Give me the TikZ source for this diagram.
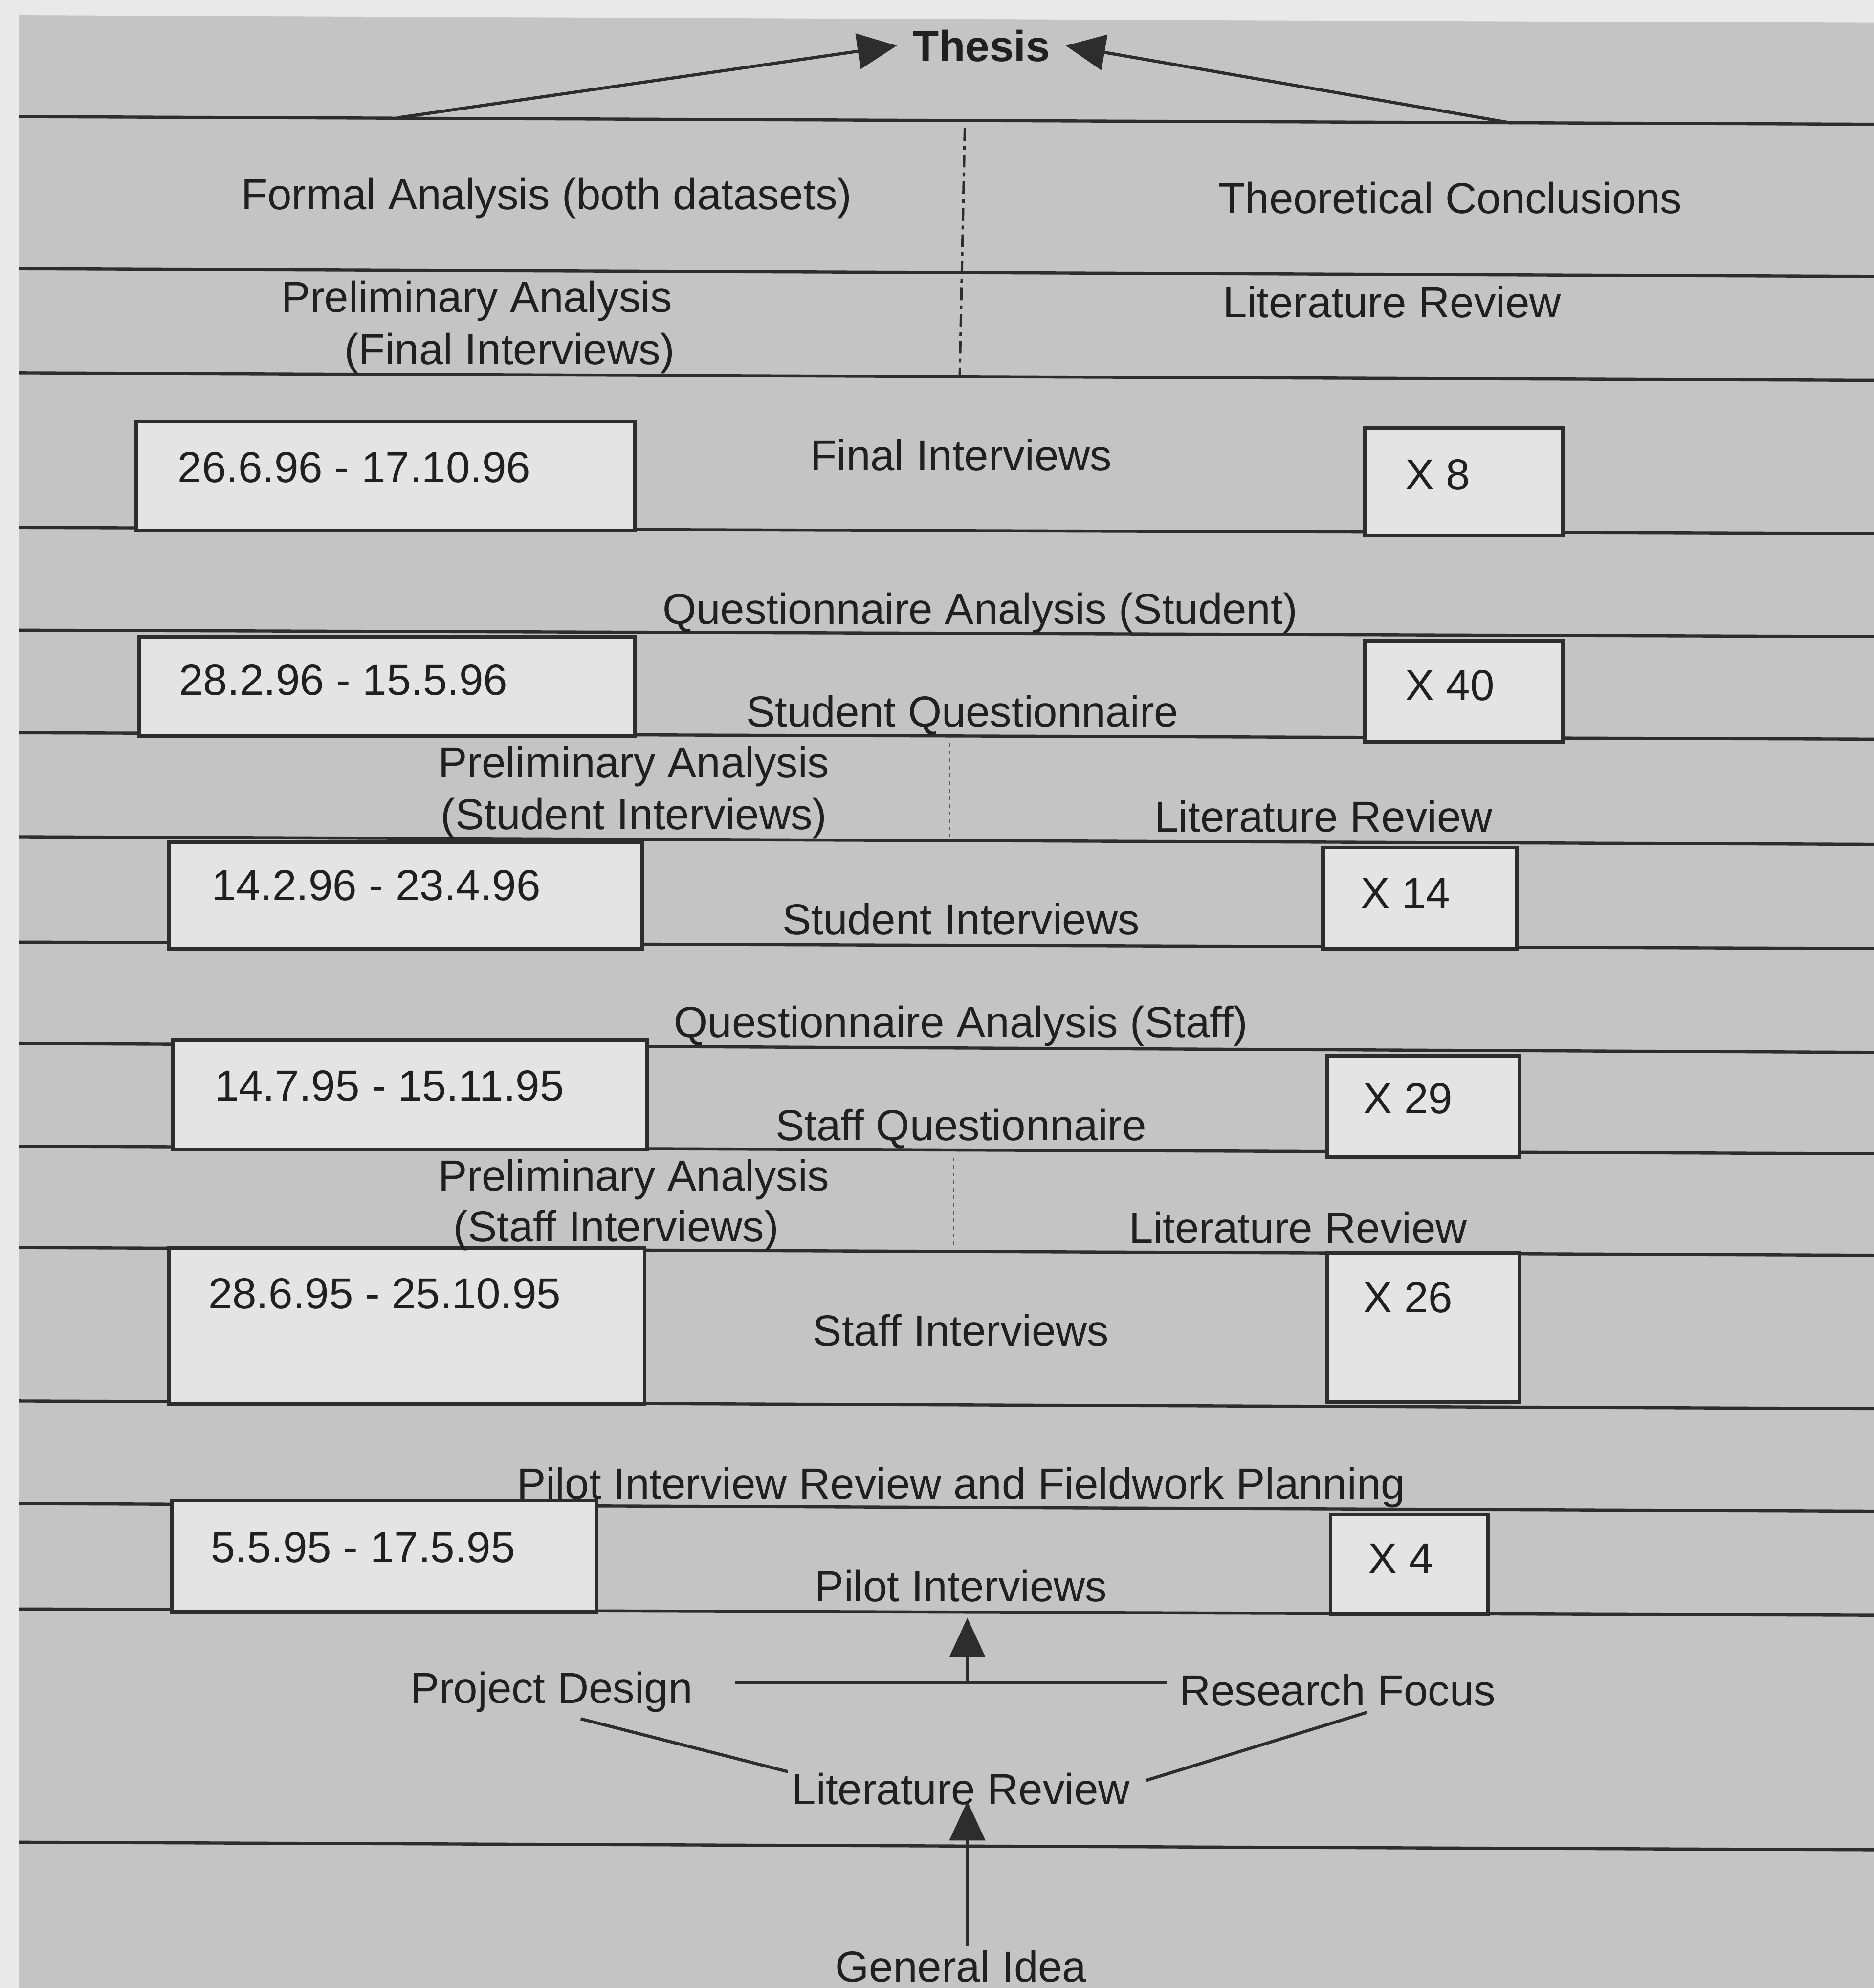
\documentclass[tikz,border=0pt]{standalone}
\usepackage{fontspec}
\setmainfont{Liberation Sans}
\usetikzlibrary{arrows.meta}
\definecolor{bg}{RGB}{196,196,196}
\definecolor{paper}{RGB}{233,233,233}
\definecolor{boxfill}{RGB}{228,228,228}
\definecolor{ink}{RGB}{32,32,32}
\definecolor{rule}{RGB}{45,45,45}
\begin{document}
\begin{tikzpicture}[x=0.02cm,y=-0.02cm,
  lbl/.style={font=\fontsize{19.5pt}{23pt}\selectfont, text=ink, inner sep=0pt, text height=14pt, text depth=0pt},
  dlbl/.style={lbl, anchor=west},
  dbox/.style={draw=rule, fill=boxfill, line width=1.7pt, anchor=north west, inner sep=0pt},
  hline/.style={draw=rule, line width=1.4pt},
  conn/.style={draw=rule, line width=1.4pt},
  arr/.style={conn, -{Triangle[length=0.62cm,width=0.56cm]}},
  dashdotline/.style={draw=rule, line width=1.1pt, dash pattern=on 0.2cm off 0.08cm on 0.06cm off 0.08cm},
  dotline/.style={draw=rule!80, line width=0.6pt, dash pattern=on 0.06cm off 0.06cm}
]
\useasboundingbox (0,0) rectangle (1478,1568);
\clip (0,0) rectangle (1478,1568);
\fill[paper] (0,0) rectangle (1478,1568);
\fill[bg] (15,12) -- (1478,18) -- (1478,1568) -- (15,1568) -- cycle;

% horizontal rules
\foreach \a/\b in {92/98, 212/218, 294/300, 416/421, 497/502, 578/583, 660/666, 743/748,
                   823/830, 904/910, 984/990, 1105/1111, 1186/1192, 1269/1274, 1453/1459}
  \draw[hline] (15,\a) -- (1478,\b);

% vertical separators
\draw[dashdotline] (761,101) -- (757,297);
\draw[dotline] (749,586) -- (749,660);
\draw[dotline] (752,913) -- (752,985);

% boxes
\node[dbox, minimum width=393*0.02cm, minimum height=86*0.02cm] (d1) at (106,331) {};
\node[dbox, minimum width=156*0.02cm, minimum height=85*0.02cm] (n1) at (1075,336) {};
\node[dbox, minimum width=391*0.02cm, minimum height=78*0.02cm] (d2) at (108,501) {};
\node[dbox, minimum width=156*0.02cm, minimum height=80*0.02cm] (n2) at (1075,504) {};
\node[dbox, minimum width=373*0.02cm, minimum height=84*0.02cm] (d3) at (132,663) {};
\node[dbox, minimum width=153*0.02cm, minimum height=80*0.02cm] (n3) at (1042,667) {};
\node[dbox, minimum width=374*0.02cm, minimum height=86*0.02cm] (d4) at (135,819) {};
\node[dbox, minimum width=152*0.02cm, minimum height=80*0.02cm] (n4) at (1045,831) {};
\node[dbox, minimum width=375*0.02cm, minimum height=123*0.02cm] (d5) at (132,983) {};
\node[dbox, minimum width=152*0.02cm, minimum height=117*0.02cm] (n5) at (1045,987) {};
\node[dbox, minimum width=335*0.02cm, minimum height=88*0.02cm] (d6) at (134,1182) {};
\node[dbox, minimum width=124*0.02cm, minimum height=79*0.02cm] (n6) at (1048,1193) {};

% box texts
\node[dlbl] (d1t) at (140,368) {26.6.96 - 17.10.96};
\node[dlbl] (n1t) at (1108,374) {X 8};
\node[dlbl] (d2t) at (141,536) {28.2.96 - 15.5.96};
\node[dlbl] (n2t) at (1108,540) {X 40};
\node[dlbl] (d3t) at (167,698) {14.2.96 - 23.4.96};
\node[dlbl] (n3t) at (1073,704) {X 14};
\node[dlbl] (d4t) at (169,856) {14.7.95 - 15.11.95};
\node[dlbl] (n4t) at (1075,866) {X 29};
\node[dlbl] (d5t) at (164,1020) {28.6.95 - 25.10.95};
\node[dlbl] (n5t) at (1075,1023) {X 26};
\node[dlbl] (d6t) at (166,1220) {5.5.95 - 17.5.95};
\node[dlbl] (n6t) at (1079,1229) {X 4};

% stage labels
\node[lbl, font=\fontsize{19.5pt}{23pt}\selectfont\bfseries, inner xsep=0.24cm] (thesis) at (774,36) {Thesis};
\node[lbl] (formal) at (431,153) {Formal Analysis (both datasets)};
\node[lbl] (theo) at (1144,156) {Theoretical Conclusions};
\node[lbl] (pa1a) at (376,234) {Preliminary Analysis};
\node[lbl] (pa1b) at (402,275) {(Final Interviews)};
\node[lbl] (lr1) at (1098,238) {Literature Review};
\node[lbl] (fi) at (758,359) {Final Interviews};
\node[lbl] (qas) at (773,480) {Questionnaire Analysis (Student)};
\node[lbl] (sq) at (759,561) {Student Questionnaire};
\node[lbl] (pa2a) at (500,601) {Preliminary Analysis};
\node[lbl] (pa2b) at (500,642) {(Student Interviews)};
\node[lbl] (lr2) at (1044,644) {Literature Review};
\node[lbl] (si) at (758,725) {Student Interviews};
\node[lbl] (qaf) at (758,806) {Questionnaire Analysis (Staff)};
\node[lbl] (fq) at (758,887) {Staff Questionnaire};
\node[lbl] (pa3a) at (500,927) {Preliminary Analysis};
\node[lbl] (pa3b) at (486,967) {(Staff Interviews)};
\node[lbl] (lr3) at (1024,968) {Literature Review};
\node[lbl] (fin) at (758,1049) {Staff Interviews};
\node[lbl] (pir) at (758,1170) {Pilot Interview Review and Fieldwork Planning};
\node[lbl] (pi) at (758,1251) {Pilot Interviews};
\node[lbl] (pd) at (435,1331) {Project Design};
\node[lbl] (rf) at (1055,1333) {Research Focus};
\node[lbl] (lr) at (758,1411) {Literature Review};
\node[lbl] (gi) at (758,1551) {General Idea};

% connectors
\coordinate (tl) at (313,93);
\coordinate (tr) at (1192,97);
\draw[arr] (tl) -- (thesis.west);
\draw[arr] (tr) -- (thesis.east);

\draw[conn] ([shift={(33,-4)}]pd.east) -- ([shift={(-10,-6)}]rf.west);
\coordinate (jn) at (763,1327);
\coordinate (pin) at (763,1276);
\draw[arr] (jn) -- (pin);
\draw[conn] ([shift={(23,12)}]pd.south) -- ([shift={(-3,-1)}]lr.north west);
\draw[conn] ([shift={(23,5)}]rf.south) -- ([shift={(12,6)}]lr.north east);
\draw[arr] ([shift={(5,-3)}]gi.north) -- ([shift={(5,-3)}]lr.south);
\end{tikzpicture}
\end{document}
